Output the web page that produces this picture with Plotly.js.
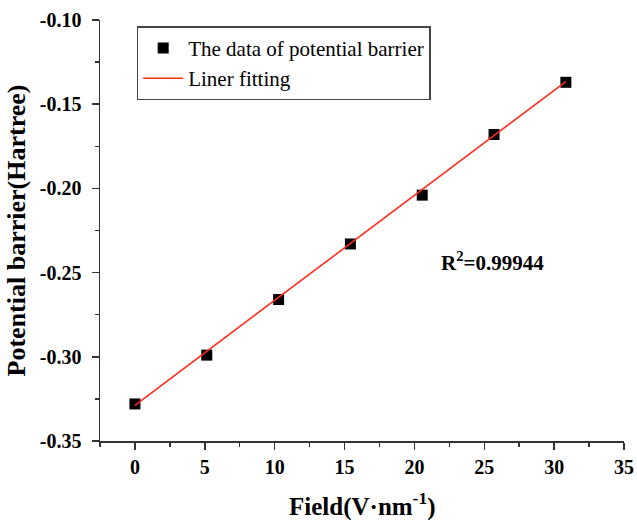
<!DOCTYPE html>
<html>
<head>
<meta charset="utf-8">
<script src="https://cdn.plot.ly/plotly-3.0.1.min.js"></script>
<style>
  html, body { margin: 0; padding: 0; background: #fff; }
  #chart { width: 637px; height: 520px; }
</style>
</head>
<body>
<div id="chart"></div>
<script>
// Electric field strength (V/nm) and the corresponding potential barrier (Hartree)
const fieldValues = [0, 5.14, 10.28, 15.42, 20.56, 25.70, 30.84];
const barrierValues = [-0.328, -0.299, -0.266, -0.233, -0.204, -0.168, -0.137];

// Endpoints of the fitted straight line
const fitField = [0, 30.84];
const fitBarrier = [-0.3288, -0.1366];

// Axis tick positions and their labels
const xTickVals = [0, 5, 10, 15, 20, 25, 30, 35];
const xTickText = ['0', '5', '10', '15', '20', '25', '30', '35'];
const yTickVals = [-0.35, -0.30, -0.25, -0.20, -0.15, -0.10];
const yTickText = ['-0.35', '-0.30', '-0.25', '-0.20', '-0.15', '-0.10'];

const xTitle = 'Field(V·nm<sup>-1</sup>)';
const yTitle = 'Potential barrier(Hartree)';
const r2Label = 'R<sup>2</sup>=0.99944';

const serif = 'Liberation Serif, Times New Roman, serif';
const bold = s => '<b>' + s + '</b>';

const traces = [
  {
    x: fieldValues,
    y: barrierValues,
    type: 'scatter',
    mode: 'markers',
    name: 'The data of potential barrier',
    marker: { symbol: 'square', size: 11, color: '#000' }
  },
  {
    x: fitField,
    y: fitBarrier,
    type: 'scatter',
    mode: 'lines',
    name: 'Liner fitting',
    line: { color: '#ff2a1a', width: 1.6 }
  }
];

const tickStyle = { ticks: 'outside', ticklen: 7, tickwidth: 1.5, tickcolor: '#333' };
const tickFont = { family: serif, size: 20, color: '#000', weight: 700 };

const layout = {
  width: 637,
  height: 520,
  margin: { l: 100, r: 13, t: 20, b: 79 },
  paper_bgcolor: '#fff',
  plot_bgcolor: '#fff',
  font: { family: serif, color: '#000' },
  showlegend: true,
  legend: {
    x: 0.07, y: 0.985, xanchor: 'left', yanchor: 'top',
    bgcolor: 'rgba(255,255,255,0)',
    bordercolor: '#444', borderwidth: 1.5,
    font: { family: serif, size: 21, color: '#000' },
    tracegroupgap: 0,
    itemwidth: 40
  },
  xaxis: Object.assign({
    range: [-2.5, 35],
    tickmode: 'array', tickvals: xTickVals, ticktext: xTickText.map(bold),
    minor: { ticks: 'outside', dtick: 2.5, tick0: 0, ticklen: 4, tickwidth: 1.5, tickcolor: '#333', showgrid: false },
    showline: true, linecolor: '#333', linewidth: 1.5,
    showgrid: false, zeroline: false,
    tickfont: tickFont
  }, tickStyle),
  yaxis: Object.assign({
    range: [-0.35, -0.10],
    tickmode: 'array', tickvals: yTickVals, ticktext: yTickText.map(bold),
    ticklabelstandoff: 6,
    minor: { ticks: 'outside', dtick: 0.025, tick0: -0.35, ticklen: 4, tickwidth: 1.5, tickcolor: '#333', showgrid: false },
    showline: true, linecolor: '#333', linewidth: 1.5,
    showgrid: false, zeroline: false,
    tickfont: tickFont,
    title: { text: bold(yTitle), font: { family: serif, size: 26, color: '#000' }, standoff: 6 }
  }, tickStyle),
  annotations: [
    {
      // field axis title, placed under the tick labels near the bottom edge
      x: 0.5, y: -0.106, xref: 'paper', yref: 'paper',
      xanchor: 'center', yanchor: 'top',
      text: bold(xTitle),
      showarrow: false,
      font: { family: serif, size: 25, color: '#000' }
    },
    {
      x: 25.6, y: -0.2437, xref: 'x', yref: 'y',
      text: bold(r2Label),
      showarrow: false,
      font: { family: serif, size: 21, color: '#000' }
    }
  ]
};

Plotly.newPlot('chart', traces, layout, { displayModeBar: false, staticPlot: true });
</script>
</body>
</html>
